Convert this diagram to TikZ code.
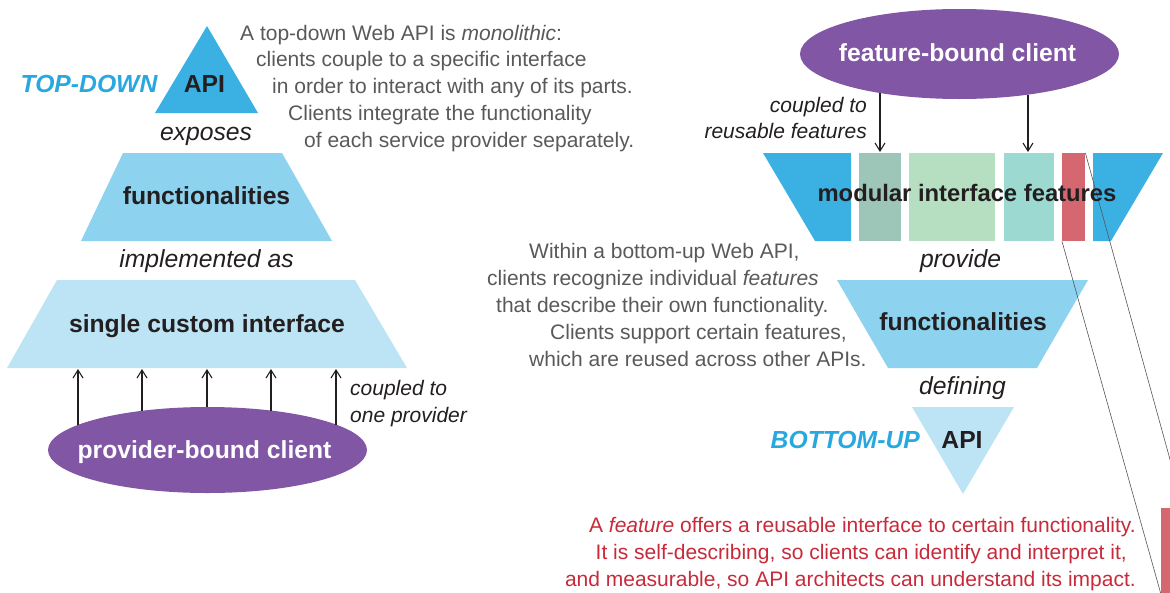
\documentclass[tikz,border=0pt]{standalone}
\usepackage{fontspec}
\setmainfont{Liberation Sans}
\usetikzlibrary{arrows.meta,shapes.geometric}
\definecolor{apiblue}{HTML}{3BB1E3}
\definecolor{funcblue}{HTML}{8DD2EE}
\definecolor{paleblue}{HTML}{BDE4F5}
\definecolor{purp}{HTML}{8156A4}
\definecolor{tdblue}{HTML}{29A8E0}
\definecolor{tealgray}{HTML}{9DC5B8}
\definecolor{lgreen}{HTML}{B6DFC2}
\definecolor{aqua}{HTML}{9BD9D1}
\definecolor{featred}{HTML}{D4676F}
\definecolor{bodygray}{HTML}{58595B}
\definecolor{inkblack}{HTML}{231F20}
\definecolor{redtext}{HTML}{C72A3A}
\definecolor{linegray}{HTML}{555555}
\begin{document}
\begin{tikzpicture}[x=1pt,y=-1pt,
  biglbl/.style={inner sep=0pt, text=inkblack, font=\fontsize{24.7}{29}\selectfont\bfseries},
  bigit/.style={inner sep=0pt, text=inkblack, font=\fontsize{24.7}{29}\selectfont\itshape},
  sideit/.style={inner sep=0pt, text=tdblue, font=\fontsize{24.7}{29}\selectfont\bfseries\itshape},
  smallit/.style={inner sep=0pt, text=inkblack, font=\fontsize{21}{26}\selectfont\itshape},
  body/.style={inner sep=0pt, text=bodygray, font=\fontsize{21}{26}\selectfont},
  redbody/.style={inner sep=0pt, text=redtext, font=\fontsize{21}{26}\selectfont},
  client/.style={ellipse, fill=purp, inner sep=0pt, minimum width=319pt},
  couple/.style={line width=1.1pt, inkblack, -{Straight Barb[length=8pt,width=10pt]}},
  zoomline/.style={line width=0.6pt, linegray},
  feat/.style={inner sep=0pt, minimum height=88pt}
]
\useasboundingbox (0,0) rectangle (1170,592);
\clip (0,0) rectangle (1170,592);

% ===== left: top-down =====
\fill[apiblue] (207,26) -- (258,113) -- (155,113) -- cycle;
\fill[funcblue] (123,153) -- (282,153) -- (332,241) -- (81,241) -- cycle;
\fill[paleblue] (57,280) -- (355,280) -- (407,368) -- (7,368) -- cycle;
\node[client, minimum height=86pt] (pbc) at (207.5,450) {};

\coordinate (ps1) at (78,425);   \coordinate (pe1) at (78,369);
\coordinate (ps2) at (142,411);  \coordinate (pe2) at (142,369);
\coordinate (ps3) at (207,407);  \coordinate (pe3) at (207,369);
\coordinate (ps4) at (271,410.6);\coordinate (pe4) at (271,369);
\coordinate (ps5) at (336,424.5);\coordinate (pe5) at (336,369);
\foreach \i in {1,...,5} \draw[couple] (ps\i) -- (pe\i);

\node[sideit, anchor=base] (tdl) at (89,92) {TOP-DOWN};
\node[biglbl, anchor=base] (tdapi) at (204.5,92) {API};
\node[bigit, anchor=base] (exp) at (206,140) {exposes};
\node[biglbl, anchor=base] (tdfunc) at (206.5,204) {functionalities};
\node[bigit, anchor=base] (impl) at (206.5,267) {implemented as};
\node[biglbl, anchor=base] (sci) at (207,332) {single custom interface};
\node[biglbl, anchor=base, text=white] (pbct) at (204.5,458) {provider-bound client};
\node[smallit, anchor=base west] (c1) at (350,395) {coupled to};
\node[smallit, anchor=base west] (c2) at (350,422) {one provider};

\node[body, anchor=base west] (t1) at (240,40) {A top-down Web API is \textit{monolithic}:};
\node[body, anchor=base west] (t2) at (256,66.75) {clients couple to a specific interface};
\node[body, anchor=base west] (t3) at (272,93.5) {in order to interact with any of its parts.};
\node[body, anchor=base west] (t4) at (288,120.25) {Clients integrate the functionality};
\node[body, anchor=base west] (t5) at (304,147) {of each service provider separately.};

% ===== right: bottom-up =====
\node[client, minimum height=90pt] (fbc) at (959.5,54) {};
\fill[apiblue] (763,153) -- (851,153) -- (851,241) -- (815,241) -- cycle;
\node[feat, fill=tealgray, minimum width=42pt, anchor=north west] (f1) at (859,153) {};
\node[feat, fill=lgreen, minimum width=86pt, anchor=north west] (f2) at (909,153) {};
\node[feat, fill=aqua, minimum width=50pt, anchor=north west] (f3) at (1004,153) {};
\node[feat, fill=featred, minimum width=23pt, anchor=north west] (f4) at (1062,153) {};
\fill[apiblue] (1093,153) -- (1163,153) -- (1111,241) -- (1093,241) -- cycle;
\fill[funcblue] (837,280) -- (1088,280) -- (1037,368) -- (888,368) -- cycle;
\fill[paleblue] (912,407) -- (1014,407) -- (963,494) -- cycle;
\node[feat, fill=featred, minimum width=22pt, minimum height=86pt, anchor=north west] (bigred) at (1161,508) {};

\coordinate (fs1) at (880,93);   \coordinate (fe1) at (880,152);
\coordinate (fs2) at (1028,94.6);\coordinate (fe2) at (1028,152);
\draw[couple] (fs1) -- (fe1);
\draw[couple] (fs2) -- (fe2);

\draw[zoomline] (f4.north east) -- (bigred.north east);
\draw[zoomline] (f4.south west) -- (bigred.south west);

\node[biglbl, anchor=base, text=white] (fbct) at (957.5,61) {feature-bound client};
\node[smallit, anchor=base east] (r1) at (867,112) {coupled to};
\node[smallit, anchor=base east] (r2) at (867,138) {reusable features};
\node[biglbl, anchor=base, font=\fontsize{23.8}{28}\selectfont\bfseries] (mif) at (967,201) {modular interface features};
\node[bigit, anchor=base] (prov) at (960.5,267) {provide};
\node[biglbl, anchor=base] (bufunc) at (963,330) {functionalities};
\node[bigit, anchor=base] (def) at (962.5,394) {defining};
\node[sideit, anchor=base east] (bul) at (920,448) {BOTTOM-UP};
\node[biglbl, anchor=base] (buapi) at (962,448) {API};

\node[body, anchor=base west] (m1) at (529,258) {Within a bottom-up Web API,};
\node[body, anchor=base west] (m2) at (487,285) {clients recognize individual \textit{features}};
\node[body, anchor=base west] (m3) at (496,312) {that describe their own functionality.};
\node[body, anchor=base west] (m4) at (550,339) {Clients support certain features,};
\node[body, anchor=base west] (m5) at (529,366) {which are reused across other APIs.};

\node[redbody, anchor=base east] (q1) at (1136,532) {A \textit{feature} offers a reusable interface to certain functionality.};
\node[redbody, anchor=base east] (q2) at (1127,559) {It is self-describing, so clients can identify and interpret it,};
\node[redbody, anchor=base east] (q3) at (1136,586) {and measurable, so API architects can understand its impact.};
\end{tikzpicture}
\end{document}
